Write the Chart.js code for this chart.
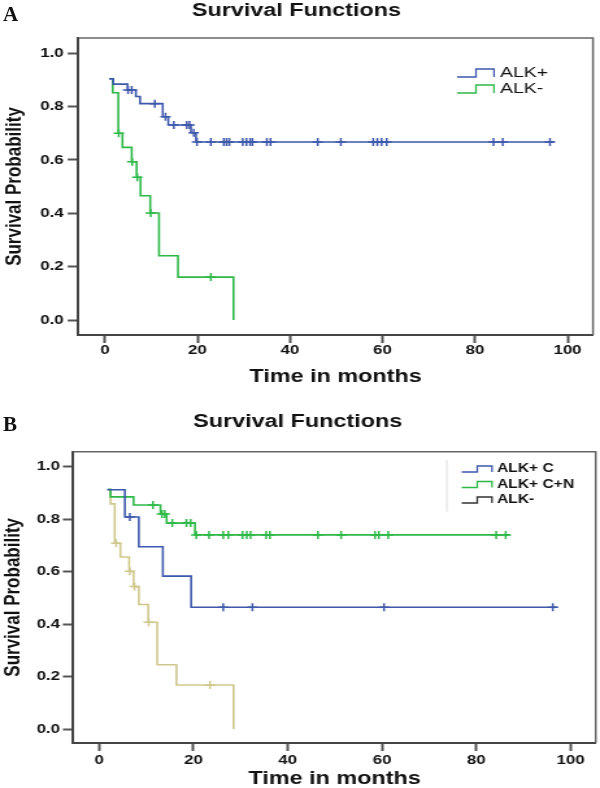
<!DOCTYPE html>
<html>
<head>
<meta charset="utf-8">
<script src="https://cdn.jsdelivr.net/npm/chart.js@4.4.1/dist/chart.umd.min.js"></script>
<style>
    html, body { margin: 0; padding: 0; background: #fff; }
    #page { position: relative; width: 600px; height: 788px; overflow: hidden; background: #fff; }
    .panel { position: absolute; left: 0; width: 600px; }
    .panel canvas { display: block; }
    .tag { position: absolute; left: 3px; font: bold 21px 'Liberation Serif', 'DejaVu Serif', serif; color: #111; }
</style>
</head>
<body>
<div id="page">
    <div class="panel" style="top:0;height:390px">
        <canvas id="chartA" width="462" height="390" style="width:600px;height:390px"></canvas>
    </div>
    <div class="panel" style="top:390px;height:398px">
        <canvas id="chartB" width="462" height="398" style="width:600px;height:398px"></canvas>
    </div>
    <div class="tag" style="top:2px">A</div>
    <div class="tag" style="top:412px">B</div>
</div>

<script>
// ==================== dữ liệu ====================
const timeTicks = [0, 20, 40, 60, 80, 100];
const survTicks = [0.0, 0.2, 0.4, 0.6, 0.8, 1.0];

// Panel A
const aPosTimes = [0.9, 1.8, 4.9, 6.7, 7.6, 12.5, 13.7, 18.6, 19.7, 97.2];
const aPosSurv = [0.904, 0.884, 0.862, 0.838, 0.811, 0.762, 0.731, 0.702, 0.667, 0.667];
const aPosCensored = [5.0, 5.8, 10.8, 13.1, 14.9, 17.7, 18.3, 19.2, 19.9, 22.9, 25.7, 26.3, 26.9,
    29.8, 30.6, 31.4, 31.9, 35.0, 35.8, 46.0, 51.0, 58.0, 58.9, 59.8, 60.9, 84.0, 86.0, 96.2];

const aNegTimes = [1.5, 1.7, 2.9, 3.8, 5.8, 6.85, 7.7, 9.8, 11.7, 15.8, 27.8];
const aNegSurv = [0.904, 0.852, 0.700, 0.647, 0.593, 0.535, 0.466, 0.401, 0.241, 0.161, 0.0];
const aNegCensored = [3.0, 5.9, 7.0, 9.9, 22.9];

// Panel B
const bCTimes = [1.7, 5.45, 8.4, 13.5, 19.5, 97.2];
const bCSurv = [0.912, 0.808, 0.695, 0.583, 0.464, 0.464];
const bCCensored = [6.5, 26.3, 32.5, 60.4, 96.2];

const bCNTimes = [1.8, 2.4, 7.3, 13.0, 14.3, 20.3, 87.1];
const bCNSurv = [0.914, 0.885, 0.854, 0.820, 0.785, 0.740, 0.740];
const bCNCensored = [11.4, 13.3, 13.9, 15.5, 18.5, 19.4, 20.6, 23.3, 26.3, 27.4, 30.4, 31.3, 32.1,
    35.4, 36.2, 46.4, 51.3, 58.5, 59.3, 61.3, 84.2, 86.2];

const bNegTimes = [1.8, 2.4, 3.3, 4.5, 6.35, 7.3, 8.4, 10.4, 12.3, 16.4, 28.5];
const bNegSurv = [0.912, 0.858, 0.708, 0.656, 0.601, 0.543, 0.475, 0.407, 0.245, 0.168, 0.0];
const bNegCensored = [3.6, 6.5, 7.5, 10.5, 23.5];

const BLUE = '#3E58AC';
const GREEN = '#2EB848';
const TAN = '#CFC88C';
const FONT = "'Liberation Sans', Arial, sans-serif";

// ==================== helpers ====================
// giá trị của đường bậc thang tại thời điểm t (dấu censor nằm trên đường)
function survAt(times, surv, t) {
    let s = surv[0];
    for (let i = 0; i < times.length; i++) {
        if (times[i] <= t) s = surv[i];
    }
    return s;
}

function kmSets(label, color, times, surv, censored, legendColor) {
    return [
        {
            label: label,
            legendColor: legendColor || color,
            data: times.map((t, i) => ({ x: t, y: surv[i] })),
            borderColor: color,
            borderWidth: 1.6,
            stepped: true,
            pointRadius: 0,
            fill: false
        },
        {
            label: label + ' censored',
            censor: true,
            data: censored.map(t => ({ x: t, y: survAt(times, surv, t) })),
            showLine: false,
            pointStyle: 'cross',
            pointRadius: 4,
            pointBorderWidth: 1.5,
            pointBorderColor: color,
            borderColor: color
        }
    ];
}

function axes(box) {
    const tickFont = { family: FONT, size: 13, weight: 'bold' };
    return {
        x: {
            type: 'linear',
            min: box.xMin,
            max: box.xMax,
            afterBuildTicks: s => { s.ticks = timeTicks.map(v => ({ value: v })); },
            afterFit: s => { s.height = box.xHeight; },
            ticks: { font: tickFont, color: '#111', padding: box.xTickPad, maxRotation: 0, callback: v => String(v) },
            grid: { drawOnChartArea: false, drawTicks: true, tickLength: 8, tickWidth: 2, tickColor: '#555' },
            border: { display: true, color: '#444', width: 2 },
            title: {
                display: true, text: 'Time in months', color: '#111',
                font: { family: FONT, size: 18, weight: 'bold', lineHeight: 1 },
                padding: { top: 0, bottom: box.xTitlePad }
            }
        },
        y: {
            type: 'linear',
            min: box.yMin,
            max: box.yMax,
            afterBuildTicks: s => { s.ticks = survTicks.map(v => ({ value: v })); },
            afterFit: s => { s.width = box.yWidth; },
            ticks: { font: tickFont, color: '#111', padding: box.yTickPad, callback: v => v.toFixed(1) },
            grid: { drawOnChartArea: false, drawTicks: true, tickLength: 8, tickWidth: 2, tickColor: '#555' },
            border: { display: true, color: '#444', width: 2 },
            title: {
                display: true, text: 'Survival Probability', color: '#111',
                font: { family: FONT, size: 17, weight: 'bold', lineHeight: 1.2 },
                padding: { top: box.yTitlePad, bottom: 0 }
            }
        }
    };
}

// khung phía trên và bên phải
const framePlugin = {
    id: 'frame',
    afterDatasetsDraw(chart) {
        const { ctx, chartArea: a } = chart;
        ctx.save();
        ctx.strokeStyle = '#666';
        ctx.lineWidth = 1.5;
        ctx.beginPath();
        ctx.moveTo(a.left, a.top);
        ctx.lineTo(a.right, a.top);
        ctx.lineTo(a.right, a.bottom);
        ctx.stroke();
        ctx.restore();
    }
};

// chú thích kiểu SPSS (biểu tượng bậc thang)
const stepLegend = {
    id: 'stepLegend',
    afterDraw(chart, args, opts) {
        const ctx = chart.ctx;
        const items = chart.data.datasets.filter(d => !d.censor);
        ctx.save();
        if (opts.divider) {
            ctx.strokeStyle = '#dcdcdc';
            ctx.lineWidth = 1;
            ctx.beginPath();
            ctx.moveTo(opts.divider.x, opts.divider.y0);
            ctx.lineTo(opts.divider.x, opts.divider.y1);
            ctx.stroke();
        }
        items.forEach((d, i) => {
            const y = opts.y0 + i * opts.dy;
            const h = opts.iconH / 2;
            ctx.strokeStyle = d.legendColor;
            ctx.lineWidth = 1.3;
            ctx.beginPath();
            ctx.moveTo(opts.x0, y + h);
            ctx.lineTo(opts.xm, y + h);
            ctx.lineTo(opts.xm, y - h);
            ctx.lineTo(opts.x1, y - h);
            ctx.lineTo(opts.x1, y + h);
            ctx.stroke();
            ctx.fillStyle = '#111';
            ctx.font = opts.font;
            ctx.textBaseline = 'middle';
            ctx.textAlign = 'left';
            ctx.fillText(d.label, opts.textX, y);
        });
        ctx.restore();
    }
};

function titleOpts(padTop, padBottom) {
    return {
        display: true,
        text: 'Survival Functions',
        color: '#111',
        font: { family: FONT, size: 18, weight: 'bold', lineHeight: 1.2 },
        padding: { top: padTop, bottom: padBottom }
    };
}

// ==================== Panel A ====================
new Chart(document.getElementById('chartA'), {
    type: 'line',
    data: {
        datasets: [
            ...kmSets('ALK+', BLUE, aPosTimes, aPosSurv, aPosCensored),
            ...kmSets('ALK-', GREEN, aNegTimes, aNegSurv, aNegCensored)
        ]
    },
    options: {
        responsive: false,
        devicePixelRatio: 1,
        animation: false,
        events: [],
        layout: { padding: { left: 0, top: 0, right: 5.4, bottom: 0 }, autoPadding: false },
        scales: axes({
            xMin: -5.8, xMax: 105.5, yMin: -0.056, yMax: 1.057,
            xHeight: 55, xTickPad: 0, xTitlePad: 4,
            yWidth: 60.1, yTickPad: 3, yTitlePad: 1.3
        }),
        plugins: {
            legend: { display: false },
            tooltip: { enabled: false },
            title: titleOpts(0, 16.4),
            stepLegend: {
                x0: 351.9, xm: 366.5, x1: 380.4, textX: 385,
                y0: 73, dy: 16, iconH: 8,
                font: "15px 'Liberation Sans', Arial, sans-serif"
            }
        }
    },
    plugins: [framePlugin, stepLegend]
});

// ==================== Panel B ====================
new Chart(document.getElementById('chartB'), {
    type: 'line',
    data: {
        datasets: [
            ...kmSets('ALK+ C', BLUE, bCTimes, bCSurv, bCCensored),
            ...kmSets('ALK+ C+N', GREEN, bCNTimes, bCNSurv, bCNCensored),
            ...kmSets('ALK-', TAN, bNegTimes, bNegSurv, bNegCensored, '#333')
        ]
    },
    options: {
        responsive: false,
        devicePixelRatio: 1,
        animation: false,
        events: [],
        layout: { padding: { left: 0, top: 0, right: 3.3, bottom: 0 }, autoPadding: false },
        scales: axes({
            xMin: -5.5, xMax: 105.3, yMin: -0.053, yMax: 1.057,
            xHeight: 45, xTickPad: 1.2, xTitlePad: 0,
            yWidth: 56.4, yTickPad: 2.2, yTitlePad: 0.2
        }),
        plugins: {
            legend: { display: false },
            tooltip: { enabled: false },
            title: titleOpts(21.7, 18.4),
            stepLegend: {
                x0: 355.5, xm: 367.5, x1: 378.8, textX: 382.7,
                y0: 79, dy: 15.5, iconH: 6,
                font: "bold 12px 'Liberation Sans', Arial, sans-serif",
                divider: { x: 344, y0: 70, y1: 121.7 }
            }
        }
    },
    plugins: [framePlugin, stepLegend]
});
</script>
</body>
</html>
